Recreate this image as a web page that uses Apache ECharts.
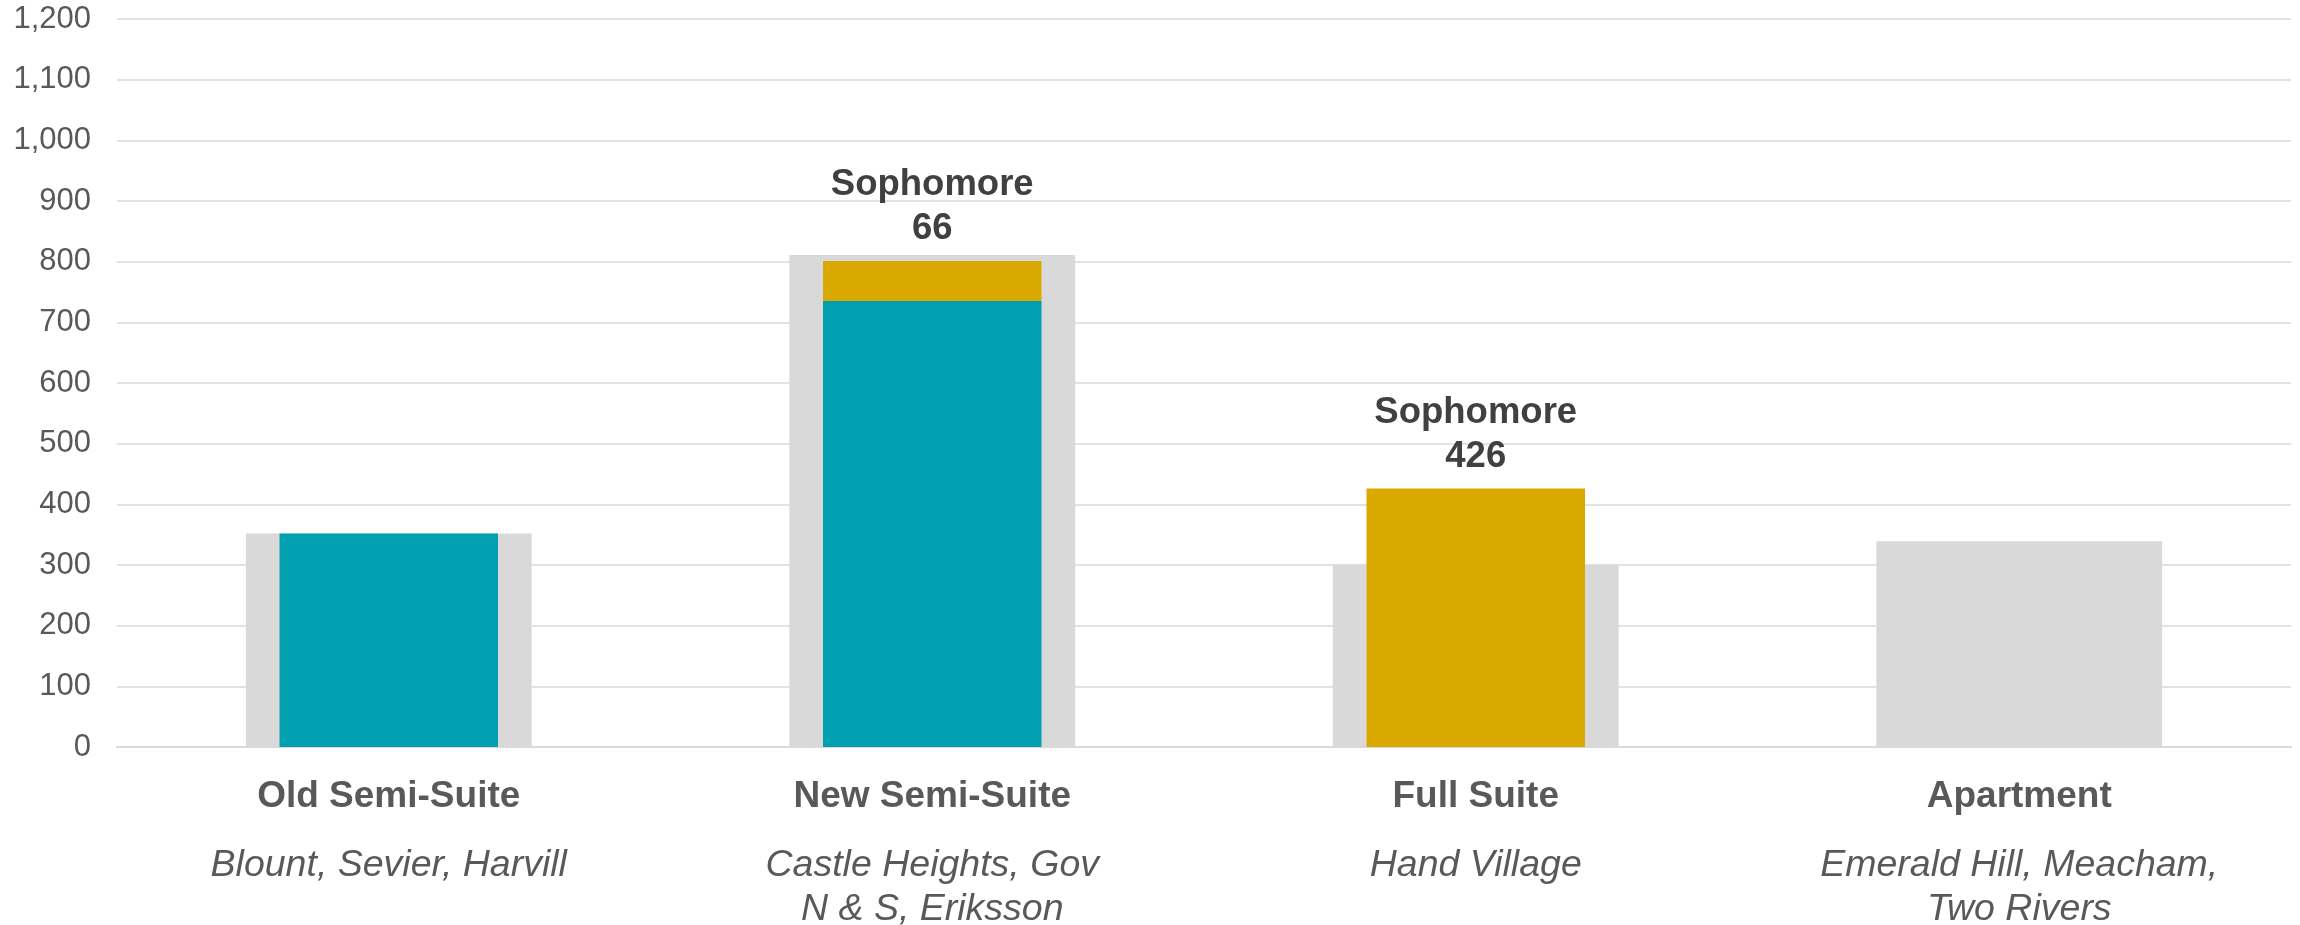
<!DOCTYPE html>
<html>
<head>
<meta charset="utf-8">
<title>Housing capacity by room type</title>
<script src="https://cdn.jsdelivr.net/npm/echarts@6/dist/echarts.min.js"></script>
<style>
  html, body { margin: 0; padding: 0; background: #ffffff; }
  #chart { width: 2300px; height: 925px; }
</style>
</head>
<body>
<div id="chart"></div>
<script>
// Room types and the halls that belong to each
const categories = ['Old Semi-Suite', 'New Semi-Suite', 'Full Suite', 'Apartment'];
const halls = ['Blount, Sevier, Harvill', 'Castle Heights, Gov\nN & S, Eriksson', 'Hand Village', 'Emerald Hill, Meacham,\nTwo Rivers'];

// Total beds per room type (wide grey bars)
const capacity = [352, 811, 301, 339];
// First-year beds (teal) and sophomore beds (gold), stacked
const firstYear = [352, 735, null, null];
const sophomore = [null, 66, 426, null];

// Value axis ticks
const yMin = 0, yMax = 1200, yStep = 100;

const TEAL = '#00A0B0';
const GOLD = '#D9A900';
const GREY = '#D9D9D9';
const FONT = '"Liberation Sans", Arial, sans-serif';

const chart = echarts.init(document.getElementById('chart'), null, { renderer: 'canvas' });

function categoryLabel(value, idx) {
  const lines = halls[idx].split('\n').map(l => '{b|' + l + '}').join('\n');
  return '{a|' + value + '}\n{g| }\n' + lines;
}

chart.setOption({
  animation: false,
  backgroundColor: '#ffffff',
  grid: { left: 117, right: 9, top: 19, bottom: 178, containLabel: false, outerBoundsMode: 'none' },
  xAxis: [
    {
      type: 'category',
      data: categories,
      axisLine: { show: true, lineStyle: { color: '#d9d9d9', width: 2 } },
      axisTick: { show: false },
      axisLabel: {
        interval: 0,
        margin: 29,
        formatter: categoryLabel,
        rich: {
          a: { fontFamily: FONT, fontSize: 37, fontWeight: 'bold', color: '#595959', lineHeight: 42, align: 'center' },
          g: { fontSize: 10, lineHeight: 26 },
          b: { fontFamily: FONT, fontSize: 37.5, fontStyle: 'italic', color: '#595959', lineHeight: 44, align: 'center' }
        }
      }
    },
    {
      type: 'category',
      data: categories,
      show: false,
      position: 'bottom'
    }
  ],
  yAxis: {
    type: 'value',
    min: yMin,
    max: yMax,
    interval: yStep,
    axisLine: { show: false },
    axisTick: { show: false },
    splitLine: { lineStyle: { color: '#d9d9d9', width: 1.5 } },
    axisLabel: {
      margin: 26,
      fontFamily: FONT,
      fontSize: 31,
      color: '#595959',
      formatter: v => v.toLocaleString('en-US')
    }
  },
  series: [
    {
      name: 'Capacity',
      type: 'bar',
      xAxisIndex: 1,
      data: capacity,
      barWidth: '52.6%',
      itemStyle: { color: GREY },
      z: 1,
      silent: true
    },
    {
      name: 'First-year',
      type: 'bar',
      stack: 'beds',
      data: firstYear,
      barWidth: '40.2%',
      itemStyle: { color: TEAL },
      z: 2
    },
    {
      name: 'Sophomore',
      type: 'bar',
      stack: 'beds',
      data: sophomore,
      barWidth: '40.2%',
      itemStyle: { color: GOLD },
      z: 2,
      label: {
        show: true,
        position: 'top',
        distance: 10,
        formatter: p => (p.value == null ? '' : 'Sophomore\n' + p.value),
        fontFamily: FONT,
        fontSize: 36.5,
        fontWeight: 'bold',
        color: '#404040',
        lineHeight: 44,
        align: 'center'
      }
    }
  ]
});
</script>
</body>
</html>
